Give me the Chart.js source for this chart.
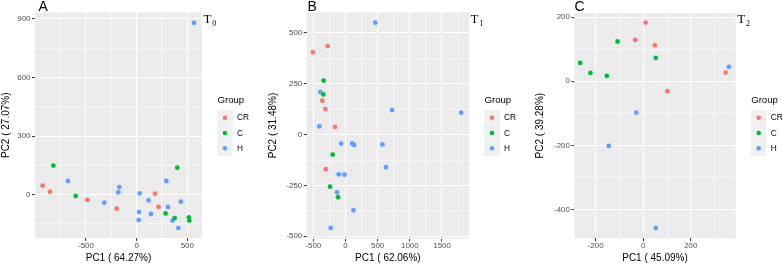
<!DOCTYPE html>
<html>
<head>
<meta charset="utf-8">
<script src="https://cdn.jsdelivr.net/npm/chart.js@4.4.1/dist/chart.umd.min.js"></script>
<style>
  body { margin: 0; background: #fff; width: 783px; height: 267px; overflow: hidden; position: relative; }
  canvas { position: absolute; top: 0; }
</style>
</head>
<body>
<canvas id="pA" width="260" height="267" style="left:0px"></canvas>
<canvas id="pB" width="260" height="267" style="left:260px"></canvas>
<canvas id="pC" width="263" height="267" style="left:520px"></canvas>
<script>
const groups = ['CR', 'C', 'H']
const colors = ['#F8766D', '#00BA38', '#619CFF']

// panel A  (T0)
const aCRx = [-927, -855, -487, -197, 181, 217]
const aCRy = [46, 15, -27, -72, 5, -63]
const aCx  = [-822, -602, 286, 401, 375, 516, 520]
const aCy  = [149, -7, -96, 138, -120, -116, -133]
const aHx  = [566, -678, -319, -171, -181, 30, 118, 23, 20, 141, 309, 293, 437, 355, 411]
const aHy  = [880, 70, -41, 39, 12, 7, -29, -89, -130, -99, -63, 70, -36, -133, -171]
const aXMajor = [-500, 0, 500]
const aXMinor = [-750, -250, 250]
const aYMajor = [0, 300, 600, 900]
const aYMinor = [-150, 150, 450, 750]

// panel B  (T1)
const bCRx = [-505, -276, -359, -312, -161, -307]
const bCRy = [405, 436, 167, 126, 38, -170]
const bCx  = [-339, -344, -198, -240, -115]
const bCy  = [266, 198, -98, -256, -308]
const bHx  = [464, -391, -406, -68, 104, 135, 724, 575, 630, 1797, -104, -16, -130, 125, -229]
const bHy  = [551, 210, 41, -44, -43, -51, 121, -48, -160, 108, -195, -197, -284, -372, -459]
const bXMajor = [-500, 0, 500, 1000, 1500]
const bXMinor = [-250, 250, 750, 1250, 1750]
const bYMajor = [-500, -250, 0, 250, 500]
const bYMinor = [-375, -125, 125, 375]

// panel C  (T2)
const cCRx = [10, -34, 49, 102, 347]
const cCRy = [183, 129, 112, -31, 27]
const cCx  = [-108, -265, -222, -153, 53]
const cCy  = [124, 57, 26, 17, 73]
const cHx  = [-29, -145, 53, 360]
const cHy  = [-98, -202, -458, 45]
const cXMajor = [-200, 0, 200]
const cXMinor = [-100, 100, 300]
const cYMajor = [-400, -200, 0, 200]
const cYMinor = [-300, -100, 100]

const SANS = "'Liberation Sans', Arial, sans-serif"
const SERIF = "'Liberation Serif', 'Times New Roman', serif"
const H = 267

const pts = (xs, ys) => xs.map((x, i) => ({ x, y: ys[i] }))

const ggPanel = {
  id: 'ggPanel',
  beforeDraw(chart) {
    const { ctx, chartArea: a } = chart
    ctx.save()
    ctx.fillStyle = '#fff'
    ctx.fillRect(0, 0, chart.width, chart.height)
    ctx.fillStyle = '#EBEBEB'
    ctx.fillRect(a.left, a.top, a.right - a.left, a.bottom - a.top)
    ctx.restore()
  },
  afterDraw(chart, args, opts) {
    const { ctx, chartArea: a } = chart
    ctx.save()
    // panel letter
    ctx.fillStyle = '#000'
    ctx.font = '14px ' + SANS
    ctx.textBaseline = 'alphabetic'
    ctx.textAlign = 'left'
    ctx.fillText(opts.letter, opts.letterX, 11.3)
    // T with subscript
    ctx.font = '13px ' + SERIF
    ctx.fillText('T', a.right + 1.5, 22.8)
    const tw = ctx.measureText('T').width
    ctx.font = '8px ' + SERIF
    ctx.fillText(opts.sub, a.right + 1.5 + tw + 0.8, 26.3)
    // legend
    const x0 = a.right + 15
    ctx.font = '9.6px ' + SANS
    ctx.textBaseline = 'middle'
    ctx.fillText('Group', x0 + 0.5, 100)
    ctx.fillStyle = '#F0F0F0'
    ctx.fillRect(x0 + 0.3, 110, 15.4, 46)
    chart.data.datasets.forEach((ds, i) => {
      const y = 117.7 + i * 15.3
      ctx.fillStyle = ds.backgroundColor
      ctx.beginPath()
      ctx.arc(x0 + 8, y, 2.3, 0, Math.PI * 2)
      ctx.fill()
      ctx.fillStyle = '#000'
      ctx.font = '8.3px ' + SANS
      ctx.fillText(ds.label, x0 + 20, y + 0.3)
    })
    ctx.restore()
  }
}

function axis(min, max, major, minor, title, size, titlePad, isX) {
  return {
    type: 'linear',
    min, max,
    afterBuildTicks: s => {
      s.ticks = major.map(v => ({ value: v }))
        .concat(minor.map(v => ({ value: v, minor: true })))
        .sort((p, q) => p.value - q.value)
    },
    afterFit: s => { if (isX) s.height = size; else s.width = size },
    border: { display: false },
    grid: {
      color: '#FFFFFF',
      lineWidth: c => (c.tick && c.tick.minor ? 0.55 : 1.1),
      drawTicks: true,
      tickLength: 3,
      tickWidth: 1,
      tickColor: c => (c.tick && c.tick.minor ? 'rgba(0,0,0,0)' : '#333333')
    },
    ticks: {
      autoSkip: false,
      maxRotation: 0,
      padding: isX ? 0 : 1.5,
      color: '#4D4D4D',
      font: { family: SANS, size: 7.9 },
      callback: (v, i, ticks) => (ticks[i].minor ? '' : String(v))
    },
    title: {
      display: true,
      text: title,
      color: '#000',
      font: { family: SANS, size: 10 },
      padding: isX ? { top: 0, bottom: titlePad } : { top: titlePad, bottom: 0 }
    }
  }
}

function makePanel(id, cfg) {
  const sets = [
    pts(cfg.crx, cfg.cry),
    pts(cfg.cx, cfg.cy),
    pts(cfg.hx, cfg.hy)
  ]
  const canvas = document.getElementById(id)
  return new Chart(canvas, {
    type: 'scatter',
    data: {
      datasets: sets.map((d, i) => ({
        label: groups[i],
        data: d,
        backgroundColor: colors[i],
        pointRadius: 2.4,
        pointHoverRadius: 2.4,
        pointBorderWidth: 0
      }))
    },
    options: {
      responsive: false,
      animation: false,
      events: [],
      devicePixelRatio: 1,
      layout: { padding: { left: 0, top: cfg.box[1], right: canvas.width - cfg.box[2], bottom: 0 } },
      plugins: {
        legend: { display: false },
        tooltip: { enabled: false },
        ggPanel: { letter: cfg.letter, letterX: cfg.letterX, sub: cfg.sub }
      },
      scales: {
        x: axis(cfg.xr[0], cfg.xr[1], cfg.xMajor, cfg.xMinor, cfg.xTitle, H - cfg.box[3], 2.4, true),
        y: axis(cfg.yr[0], cfg.yr[1], cfg.yMajor, cfg.yMinor, cfg.yTitle, cfg.box[0], cfg.yTitlePad, false)
      }
    },
    plugins: [ggPanel]
  })
}

makePanel('pA', {
  crx: aCRx, cry: aCRy, cx: aCx, cy: aCy, hx: aHx, hy: aHy,
  xr: [-1003, 645], yr: [-222, 933],
  xMajor: aXMajor, xMinor: aXMinor, yMajor: aYMajor, yMinor: aYMinor,
  xTitle: 'PC1 ( 64.27%)', yTitle: 'PC2 ( 27.07%)', yTitlePad: 0,
  box: [35, 12.5, 202, 238], letter: 'A', letterX: 38.5, sub: '0'
})

makePanel('pB', {
  crx: bCRx, cry: bCRy, cx: bCx, cy: bCy, hx: bHx, hy: bHy,
  xr: [-602, 1919], yr: [-511, 601],
  xMajor: bXMajor, xMinor: bXMinor, yMajor: bYMajor, yMinor: bYMinor,
  xTitle: 'PC1 ( 62.06%)', yTitle: 'PC2 ( 31.48%)', yTitlePad: 7.5,
  box: [46.7, 12.5, 209, 238.5], letter: 'B', letterX: 47.5, sub: '1'
})

makePanel('pC', {
  crx: cCRx, cry: cCRy, cx: cCx, cy: cCy, hx: cHx, hy: cHy,
  xr: [-290, 389], yr: [-490, 213],
  xMajor: cXMajor, xMinor: cXMinor, yMajor: cYMajor, yMinor: cYMinor,
  xTitle: 'PC1 ( 45.09%)', yTitle: 'PC2 ( 39.28%)', yTitlePad: 14,
  box: [54.3, 13, 215.7, 238.3], letter: 'C', letterX: 54.5, sub: '2'
})
</script>
</body>
</html>
